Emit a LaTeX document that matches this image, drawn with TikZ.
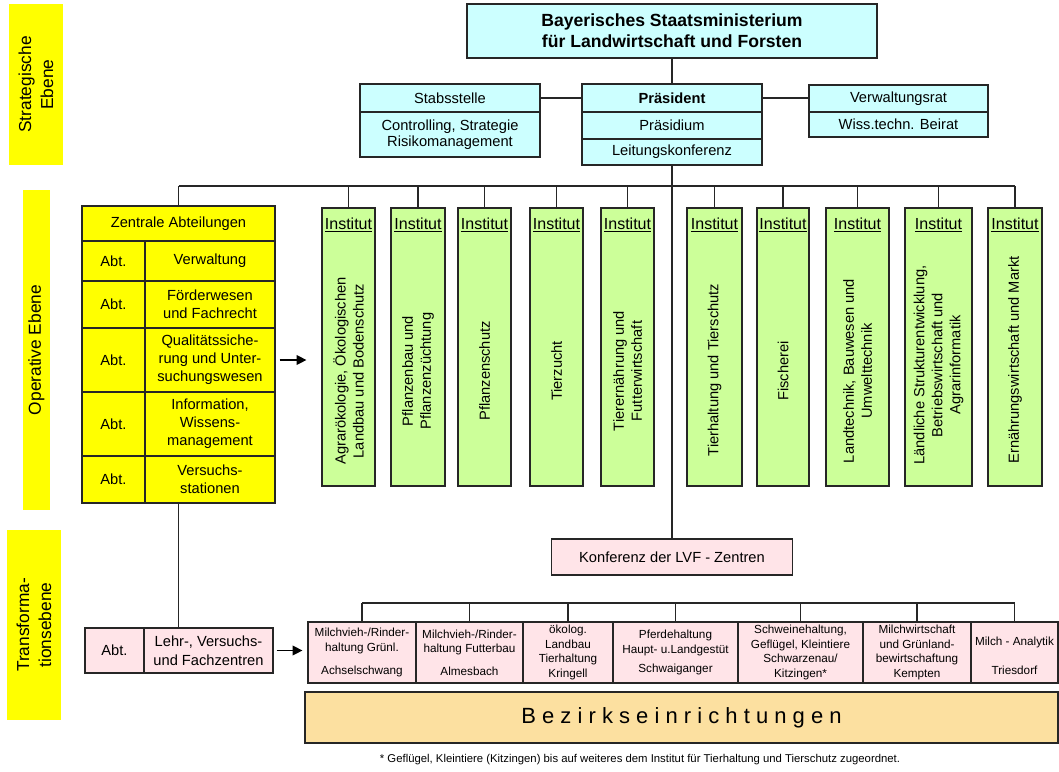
\documentclass[tikz,border=0pt]{standalone}
\usepackage{fontspec}
\setmainfont{Liberation Sans}
\usetikzlibrary{arrows.meta}

\newlength{\pxu}
\setlength{\pxu}{0.75pt}

\definecolor{ministry}{HTML}{CCFFFF}
\definecolor{institute}{HTML}{CCFF99}
\definecolor{levelyellow}{HTML}{FFFF00}
\definecolor{centre}{HTML}{FFE4E8}
\definecolor{district}{HTML}{FCE0A0}

\begin{document}
\begin{tikzpicture}[x=0.75pt, y=-0.75pt,
        every node/.style={font=\fontsize{11}{13.5}\selectfont},
        cell/.style={draw=black!85, line width=0.9pt, inner sep=0pt, align=center},
        levelbox/.style={fill=levelyellow, inner sep=0pt, rotate=90, align=center, font=\fontsize{13}{16.5}\selectfont},
        vtext/.style={rotate=90, align=center, inner sep=0pt},
        inst/.style={cell, fill=institute, minimum height=278\pxu},
        instlab/.style={font=\fontsize{12}{14}\selectfont},
        ctr/.style={cell, fill=centre, minimum height=61\pxu, font=\fontsize{8.8}{11}\selectfont},
        link/.style={black!85, line width=0.9pt},
        arrow/.style={-{Triangle[length=2.6mm, width=2.6mm]}, line width=0.9pt}
      ]
        \useasboundingbox (0,0) rectangle (1059,771);

        \node[levelbox, minimum width=161\pxu, minimum height=54\pxu] (lvstrat) at (36,84.5) {Strategische\\Ebene};
        \node[levelbox, minimum width=320\pxu, minimum height=27\pxu] (lvop) at (36.5,350) {Operative Ebene};
        \node[levelbox, minimum width=190\pxu, minimum height=54\pxu] (lvtrans) at (34,625) {Transforma-\\tionsebene};

        \node[cell, fill=ministry, minimum width=410\pxu, minimum height=54\pxu, font=\fontsize{13.2}{15.8}\selectfont\bfseries] (ministry) at (672,31) {Bayerisches Staatsministerium\\für Landwirtschaft und Forsten};
        \node[cell, fill=ministry, minimum width=180\pxu, minimum height=28\pxu] (stab) at (450,98) {Stabsstelle};
        \node[cell, fill=ministry, minimum width=180\pxu, minimum height=45\pxu, font=\fontsize{11}{12}\selectfont] (stabsub) at (450,134.5) {Controlling, Strategie\\Risikomanagement};
        \node[cell, fill=ministry, minimum width=180\pxu, minimum height=28\pxu, font=\fontsize{11}{13.5}\selectfont\bfseries] (praes) at (672,98) {Präsident};
        \node[cell, fill=ministry, minimum width=180\pxu, minimum height=27\pxu] (praesidium) at (672,125.5) {Präsidium};
        \node[cell, fill=ministry, minimum width=180\pxu, minimum height=26\pxu] (leitung) at (672,152) {Leitungskonferenz};
        \node[cell, fill=ministry, minimum width=179\pxu, minimum height=27\pxu] (verw) at (898.5,98.5) {Verwaltungsrat};
        \node[cell, fill=ministry, minimum width=179\pxu, minimum height=25\pxu] (beirat) at (898.5,124.5) {Wiss.techn. Beirat};

        \node[cell, fill=levelyellow, minimum width=193\pxu, minimum height=35\pxu] (zhead) at (178.5,223.5) {Zentrale Abteilungen};
        \node[cell, fill=levelyellow, minimum width=63\pxu, minimum height=40\pxu] (za1) at (113.5,261) {Abt.};
        \node[cell, fill=levelyellow, minimum width=130\pxu, minimum height=40\pxu] (zt1) at (210,261) {Verwaltung};
        \node[cell, fill=levelyellow, minimum width=63\pxu, minimum height=47\pxu] (za2) at (113.5,304.5) {Abt.};
        \node[cell, fill=levelyellow, minimum width=130\pxu, minimum height=47\pxu] (zt2) at (210,304.5) {Förderwesen\\und Fachrecht};
        \node[cell, fill=levelyellow, minimum width=63\pxu, minimum height=64\pxu] (za3) at (113.5,360) {Abt.};
        \node[cell, fill=levelyellow, minimum width=130\pxu, minimum height=64\pxu] (zt3) at (210,360) {Qualitätssiche-\\rung und Unter-\\suchungswesen};
        \node[cell, fill=levelyellow, minimum width=63\pxu, minimum height=64\pxu] (za4) at (113.5,424) {Abt.};
        \node[cell, fill=levelyellow, minimum width=130\pxu, minimum height=64\pxu] (zt4) at (210,424) {Information,\\Wissens-\\management};
        \node[cell, fill=levelyellow, minimum width=63\pxu, minimum height=47\pxu] (za5) at (113.5,479.5) {Abt.};
        \node[cell, fill=levelyellow, minimum width=130\pxu, minimum height=47\pxu] (zt5) at (210,479.5) {Versuchs-\\stationen};

        \node[inst, minimum width=53\pxu] (i1) at (348.5,347) {};
        \node[inst, minimum width=54\pxu] (i2) at (418,347) {};
        \node[inst, minimum width=53\pxu] (i3) at (484.5,347) {};
        \node[inst, minimum width=53\pxu] (i4) at (556.5,347) {};
        \node[inst, minimum width=53\pxu] (i5) at (627.5,347) {};
        \node[inst, minimum width=55\pxu] (i6) at (714.5,347) {};
        \node[inst, minimum width=52\pxu] (i7) at (783,347) {};
        \node[inst, minimum width=63\pxu] (i8) at (857.5,347) {};
        \node[inst, minimum width=67\pxu] (i9) at (938.5,347) {};
        \node[inst, minimum width=54\pxu] (i10) at (1015,347) {};

        \node[instlab] (i1lab) at (348.5,225) {\underline{Institut}};
        \node[instlab] (i2lab) at (418,225) {\underline{Institut}};
        \node[instlab] (i3lab) at (484.5,225) {\underline{Institut}};
        \node[instlab] (i4lab) at (556.5,225) {\underline{Institut}};
        \node[instlab] (i5lab) at (627.5,225) {\underline{Institut}};
        \node[instlab] (i6lab) at (714.5,225) {\underline{Institut}};
        \node[instlab] (i7lab) at (783,225) {\underline{Institut}};
        \node[instlab] (i8lab) at (857.5,225) {\underline{Institut}};
        \node[instlab] (i9lab) at (938.5,225) {\underline{Institut}};
        \node[instlab] (i10lab) at (1015,225) {\underline{Institut}};

        \node[vtext] (i1txt) at (348.5,371) {Agrarökologie, Ökologischen\\Landbau und Bodenschutz};
        \node[vtext] (i2txt) at (418,371) {Pflanzenbau und\\Pflanzenzüchtung};
        \node[vtext] (i3txt) at (484.5,371) {Pflanzenschutz};
        \node[vtext] (i4txt) at (556.5,371) {Tierzucht};
        \node[vtext] (i5txt) at (627.5,371) {Tierernährung und\\Futterwirtschaft};
        \node[vtext] (i6txt) at (714.5,370) {Tierhaltung und Tierschutz};
        \node[vtext] (i7txt) at (783,371) {Fischerei};
        \node[vtext] (i8txt) at (857.5,371) {Landtechnik, Bauwesen und\\Umwelttechnik};
        \node[vtext] (i9txt) at (938.5,365) {Ländliche Strukturentwicklung,\\Betriebswirtschaft und\\Agrarinformatik};
        \node[vtext] (i10txt) at (1015,360) {Ernährungswirtschaft und Markt};

        \node[cell, fill=centre, minimum width=241\pxu, minimum height=36\pxu] (konf) at (672,557) {Konferenz der LVF - Zentren};

        \node[cell, fill=centre, minimum width=59\pxu, minimum height=45\pxu] (lehrabt) at (114.5,650.5) {Abt.};
        \node[cell, fill=centre, minimum width=129\pxu, minimum height=45\pxu, font=\fontsize{11}{14}\selectfont] (lehr) at (208.5,650.5) {Lehr-, Versuchs-\\und Fachzentren};

        \node[ctr, minimum width=108\pxu] (c1) at (362,652.5) {Milchvieh-/Rinder-\\haltung Grünl.\\[6pt]Achselschwang};
        \node[ctr, minimum width=107\pxu] (c2) at (469.5,652.5) {Milchvieh-/Rinder-\\haltung Futterbau\\[6pt]Almesbach};
        \node[ctr, minimum width=90\pxu] (c3) at (568,652.5) {ökolog.\\Landbau\\Tierhaltung\\Kringell};
        \node[ctr, minimum width=125\pxu] (c4) at (675.5,652.5) {Pferdehaltung\\Haupt- u.Landgestüt\\[3pt]Schwaiganger};
        \node[ctr, minimum width=125\pxu] (c5) at (800.5,652.5) {Schweinehaltung,\\Geflügel, Kleintiere\\Schwarzenau/\\Kitzingen*};
        \node[ctr, minimum width=108\pxu] (c6) at (917,652.5) {Milchwirtschaft\\und Grünland-\\bewirtschaftung\\Kempten};
        \node[ctr, minimum width=87\pxu] (c7) at (1014.5,652.5) {\mbox{}\\Milch - Analytik\\\mbox{}\\Triesdorf};

        \node[cell, fill=district, minimum width=753\pxu, minimum height=51\pxu, font=\fontsize{16.5}{20}\selectfont] (bezirk) at (681.5,717.5) {B e z i r k s e i n r i c h t u n g e n};
        \node[font=\fontsize{8.5}{10}\selectfont] (note) at (640,760) {* Geflügel, Kleintiere (Kitzingen) bis auf weiteres dem Institut für Tierhaltung und Tierschutz zugeordnet.};

        \coordinate (ibus) at (672,186);
        \coordinate (cbus) at (672,603);

        \draw[link] (ministry) -- (praes);
        \draw[link] (stab) -- (praes);
        \draw[link] (praes.east) -- (praes.east -| verw.west);
        \draw[link] (leitung) -- (konf);

        \draw[link] (zhead.north |- ibus) -- (i10.north |- ibus);
        \draw[link] (zhead.north) -- (zhead.north |- ibus);
        \draw[link] (i1.north) -- (i1.north |- ibus);
        \draw[link] (i2.north) -- (i2.north |- ibus);
        \draw[link] (i3.north) -- (i3.north |- ibus);
        \draw[link] (i4.north) -- (i4.north |- ibus);
        \draw[link] (i5.north) -- (i5.north |- ibus);
        \draw[link] (i6.north) -- (i6.north |- ibus);
        \draw[link] (i7.north) -- (i7.north |- ibus);
        \draw[link] (i8.north) -- (i8.north |- ibus);
        \draw[link] (i9.north) -- (i9.north |- ibus);
        \draw[link] (i10.north) -- (i10.north |- ibus);

        \draw[link] (zhead.south |- zt5.south) -- (zhead.south |- lehr.north);
        \draw[arrow, shorten <=4\pxu, shorten >=15\pxu] (zt3.east) -- (zt3.east -| i1.west);
        \draw[arrow, shorten <=3\pxu, shorten >=5\pxu] (lehr.east) -- (lehr.east -| c1.west);

        \draw[link] (c1.north |- cbus) -- (c7.north |- cbus);
        \draw[link] (c1.north) -- (c1.north |- cbus);
        \draw[link] (c2.north) -- (c2.north |- cbus);
        \draw[link] (c3.north) -- (c3.north |- cbus);
        \draw[link] (c4.north) -- (c4.north |- cbus);
        \draw[link] (c5.north) -- (c5.north |- cbus);
        \draw[link] (c6.north) -- (c6.north |- cbus);
        \draw[link] (c7.north) -- (c7.north |- cbus);
      \end{tikzpicture}
\end{document}
